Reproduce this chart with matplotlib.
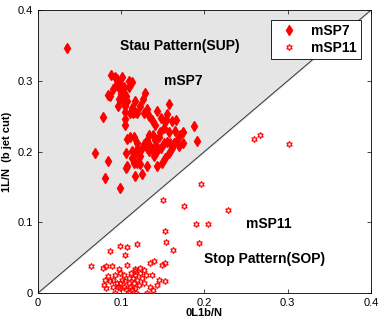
import matplotlib
matplotlib.use("Agg")
import matplotlib.pyplot as plt

# mSP7 points (0L1b/N, 1L/N)
x7 = [0.035, 0.088, 0.092, 0.095, 0.101, 0.099, 0.094, 0.090, 0.084, 0.086,
      0.078, 0.097, 0.102, 0.103, 0.109, 0.109, 0.113, 0.106, 0.107, 0.100,
      0.101, 0.103, 0.105, 0.097, 0.096, 0.105, 0.104, 0.104, 0.117, 0.114,
      0.113, 0.111, 0.116, 0.119, 0.128, 0.126, 0.123, 0.127, 0.131, 0.133,
      0.137, 0.143, 0.157, 0.140, 0.148, 0.154, 0.155, 0.153, 0.161, 0.166,
      0.165, 0.157, 0.151, 0.147, 0.145, 0.138, 0.133, 0.140, 0.142, 0.135,
      0.131, 0.127, 0.125, 0.119, 0.119, 0.115, 0.111, 0.107, 0.143, 0.148,
      0.151, 0.155, 0.159, 0.163, 0.167, 0.171, 0.170, 0.161, 0.157, 0.153,
      0.149, 0.143, 0.139, 0.133, 0.123, 0.113, 0.106, 0.113, 0.117, 0.107,
      0.115, 0.119, 0.123, 0.131, 0.117, 0.106, 0.125, 0.099, 0.068, 0.084,
      0.080, 0.187, 0.191, 0.174, 0.174, 0.131, 0.137, 0.141]
y7 = [0.346, 0.308, 0.306, 0.302, 0.305, 0.295, 0.294, 0.288, 0.280, 0.278,
      0.249, 0.290, 0.286, 0.292, 0.300, 0.292, 0.298, 0.279, 0.271, 0.281,
      0.275, 0.269, 0.264, 0.274, 0.264, 0.256, 0.246, 0.237, 0.271, 0.255,
      0.262, 0.255, 0.256, 0.255, 0.283, 0.275, 0.264, 0.255, 0.260, 0.250,
      0.245, 0.258, 0.267, 0.237, 0.248, 0.246, 0.253, 0.242, 0.243, 0.245,
      0.229, 0.228, 0.234, 0.227, 0.220, 0.223, 0.224, 0.217, 0.209, 0.208,
      0.217, 0.210, 0.205, 0.203, 0.212, 0.220, 0.220, 0.218, 0.201, 0.205,
      0.212, 0.213, 0.212, 0.212, 0.217, 0.224, 0.208, 0.205, 0.198, 0.191,
      0.184, 0.179, 0.194, 0.201, 0.194, 0.191, 0.198, 0.201, 0.196, 0.179,
      0.184, 0.184, 0.182, 0.179, 0.165, 0.177, 0.168, 0.149, 0.198, 0.186,
      0.163, 0.236, 0.215, 0.227, 0.212, 0.205, 0.203, 0.205]

# mSP11 points
x11 = [0.259, 0.267, 0.302, 0.196, 0.150, 0.175, 0.228, 0.190, 0.204, 0.194,
       0.152, 0.154, 0.162, 0.064, 0.086, 0.099, 0.107, 0.119, 0.105, 0.149,
       0.153, 0.139, 0.135, 0.152, 0.138, 0.131, 0.118, 0.109, 0.092, 0.078,
       0.082, 0.089, 0.097, 0.107, 0.117, 0.123, 0.127, 0.130, 0.137, 0.145,
       0.143, 0.135, 0.127, 0.125, 0.122, 0.117, 0.114, 0.115, 0.111, 0.106,
       0.098, 0.095, 0.090, 0.086, 0.080, 0.079, 0.082, 0.084, 0.092, 0.098,
       0.103, 0.101, 0.105, 0.109, 0.112, 0.116, 0.119, 0.121, 0.117, 0.113,
       0.103, 0.096, 0.109, 0.099, 0.090]
y11 = [0.218, 0.224, 0.211, 0.154, 0.132, 0.123, 0.118, 0.097, 0.097, 0.071,
       0.087, 0.072, 0.061, 0.038, 0.059, 0.067, 0.065, 0.069, 0.054, 0.040,
       0.042, 0.045, 0.042, 0.017, 0.004, 0.000, 0.000, 0.000, 0.000, 0.036,
       0.038, 0.038, 0.034, 0.039, 0.034, 0.036, 0.032, 0.026, 0.026, 0.018,
       0.012, 0.009, 0.014, 0.021, 0.028, 0.026, 0.021, 0.014, 0.009, 0.005,
       0.007, 0.014, 0.019, 0.017, 0.019, 0.012, 0.007, 0.024, 0.026, 0.028,
       0.026, 0.019, 0.017, 0.021, 0.028, 0.031, 0.019, 0.012, 0.007, 0.005,
       0.009, 0.009, 0.014, 0.014, 0.009]

plt.rcParams['font.family'] = ['Liberation Sans', 'DejaVu Sans']

fig = plt.figure(figsize=(3.82, 3.27), dpi=100)
ax = fig.add_axes([0.0995, 0.104, 0.8715, 0.865])

# shaded stau region above the diagonal
ax.fill([0, 0, 0.4], [0, 0.4, 0.4], color='#e5e5e5', zorder=0)
ax.plot([0, 0.4], [0, 0.4], color='#333333', lw=0.7, zorder=1)

ax.plot(x7, y7, 'd', color='red', ms=5, mec='red', label='mSP7', zorder=3)
ax.plot(x11, y11, ls='none', marker=(6, 1, 0), ms=4.5, mfc='none', mec='red',
        mew=0.8, label='mSP11', zorder=3)

ax.text(0.099, 0.349, 'Stau Pattern(SUP)', fontsize=10, fontweight='bold', va='center')
ax.text(0.151, 0.300, 'mSP7', fontsize=10, fontweight='bold', va='center')
ax.text(0.250, 0.098, 'mSP11', fontsize=10, fontweight='bold', va='center')
ax.text(0.200, 0.048, 'Stop Pattern(SOP)', fontsize=10, fontweight='bold', va='center')

ax.set_xlim(0, 0.4)
ax.set_ylim(0, 0.4)
ax.set_xticks([0, 0.1, 0.2, 0.3, 0.4])
ax.set_yticks([0, 0.1, 0.2, 0.3, 0.4])
ax.set_xticklabels(['0', '0.1', '0.2', '0.3', '0.4'])
ax.set_yticklabels(['0', '0.1', '0.2', '0.3', '0.4'])
ax.tick_params(direction='in', top=True, right=True, labelsize=8, length=3, width=0.5)
for s in ax.spines.values():
    s.set_linewidth(0.6)
ax.set_xlabel('0L1b/N', fontsize=8, fontweight='bold', labelpad=0)
ax.set_ylabel('1L/N  (b jet cut)', fontsize=8, fontweight='bold', labelpad=4)

leg = ax.legend(loc='upper right', fancybox=False, edgecolor='black', framealpha=1,
                prop={'weight': 'bold', 'size': 10}, handlelength=2.0,
                borderpad=0.3, labelspacing=0.2, handletextpad=0.6,
                bbox_to_anchor=(0.99, 0.99))
leg.get_frame().set_linewidth(0.6)

fig.savefig('out.png', dpi=100)
